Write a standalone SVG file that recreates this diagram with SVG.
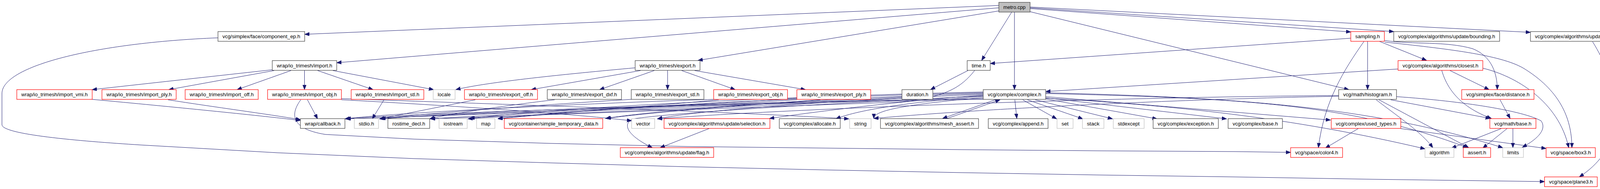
<svg xmlns="http://www.w3.org/2000/svg" width="4227" height="485" viewBox="0 0 4227 485">
<defs>
<marker id="ah" markerUnits="userSpaceOnUse" markerWidth="13" markerHeight="10" refX="12" refY="4.5" orient="auto">
<path d="M0,0 L12,4.5 L0,9 z" fill="#191970" stroke="#191970" stroke-width="1"/>
</marker>
<style>
.n rect{fill:#fff;stroke:#404040;stroke-width:1.2}
.r rect{fill:#fff;stroke:#ff0000;stroke-width:1.2}
.g rect{fill:#fff;stroke:#bfbfbf;stroke-width:1.2}
.m rect{fill:#bfbfbf;stroke:#404040;stroke-width:1.2}
text{font-family:"Liberation Sans",Arial,Helvetica,sans-serif;font-size:13px;fill:#000;text-anchor:middle}
#edges path{fill:none;stroke:#191970;stroke-width:1;marker-end:url(#ah)}
</style>
</defs>
<rect width="4227" height="485" fill="#fff"/>
<g id="edges">
<path d="M2557,14 L780,88"/>
<path d="M2557,20 L862,161"/>
<path d="M2557,28 L1787,155"/>
<path d="M2590,31 L2513,155"/>
<path d="M2597,31 L2597,230"/>
<path d="M2637,22 L3458,82"/>
<path d="M2637,20 L3568,81"/>
<path d="M2637,18 L3918,83"/>
<path d="M2637,30 L3453,230"/>
<path d="M558,97 C240,110 5,170 5,240 L5,320 C5,345 200,362 360,372 L710,392 L1060,407 L1410,418 L1760,428 L2110,436 L2460,443 L2810,449 L3160,454 L3510,460 L3954,466"/>
<path d="M4077,107 C4110,160 4122,200 4122,240 L4122,340 C4122,390 4080,430 4043,454"/>
<path d="M697,179 L236,230"/>
<path d="M702,181 L432,230"/>
<path d="M745,181 L607,230"/>
<path d="M779.5,181 L779.5,230"/>
<path d="M813,181 L955,230"/>
<path d="M852,181 L1110,230"/>
<path d="M1626,174 C1450,190 1250,210 1167,230"/>
<path d="M1640,181 L1360,230"/>
<path d="M1675,181 L1535,230"/>
<path d="M1709,181 L1709,230"/>
<path d="M1745,181 L1882,230"/>
<path d="M1778,181 L2062,230"/>
<path d="M2478,181 L2382,230"/>
<path d="M2495,181 C2460,225 2420,250 2300,262 L1102,305"/>
<path d="M2309,249 C2000,268 1300,290 1102,305"/>
<path d="M2309,252 C2000,272 1350,292 1198,305"/>
<path d="M3458,98 L2535,163"/>
<path d="M3501,106 L3501,230"/>
<path d="M3492,106 C3440,180 3390,260 3375,379"/>
<path d="M3531,106 L3652,155"/>
<path d="M3545,104 C3620,115 3700,105 3770,125 C3820,145 3833,190 3833,230"/>
<path d="M3545,108 C3700,125 3840,140 3900,175 C3990,230 4024,300 4024,379"/>
<path d="M3579,177 L2677,235"/>
<path d="M3712,181 L3812,230"/>
<path d="M3691,181 C3705,230 3740,275 3818,304"/>
<path d="M3796,175 C3880,195 3990,260 4016,379"/>
<path d="M3840,256 L3866,304"/>
<path d="M3523,256 C3580,300 3640,340 3668,379"/>
<path d="M3530,256 L3760,379"/>
<path d="M3560,256 L3815,304"/>
<path d="M3575,248 C3750,260 3900,285 3945,310 C3960,330 3940,355 3897,378"/>
<path d="M3427,247 C3000,255 2500,280 2237,304"/>
<path d="M3427,245 C2800,250 2000,280 1683,305"/>
<path d="M3843,330 L3716,380"/>
<path d="M3858,330 L3796,380"/>
<path d="M3873,330 L3873,379"/>
<path d="M3477,330 L3393,380"/>
<path d="M3586,330 L3958,381"/>
<path d="M2598,256 L2603,304"/>
<path d="M2618,256 L2705,305"/>
<path d="M2630,256 L2772,305"/>
<path d="M2650,256 L2848,305"/>
<path d="M2677,254 L2962,305"/>
<path d="M2677,251 L3140,305"/>
<path d="M2677,248 L3406,308"/>
<path d="M2677,240 C3150,252 3450,262 3757,379"/>
<path d="M2677,238 C3150,250 3500,270 3847,379"/>
<path d="M2677,252 C3000,270 3300,300 3648,382"/>
<path d="M2548,256 L2413,304"/>
<path d="M2425,304 L2560,256"/>
<path d="M2517,250 C2300,270 2237,285 2237,304"/>
<path d="M2517,247 C2350,260 2200,280 2140,305"/>
<path d="M2517,244 C2300,260 2100,285 1970,304"/>
<path d="M2517,242 C2200,255 1800,280 1683,305"/>
<path d="M2517,240 C2100,252 1700,280 1550,304"/>
<path d="M2517,238 C2000,250 1500,280 1275,304"/>
<path d="M2517,236 C1900,250 1400,280 1203,304"/>
<path d="M2517,253 C1900,262 1200,285 975,305"/>
<path d="M2517,255 C1900,265 1100,288 886,305"/>
<path d="M2517,246 C2200,262 1760,285 1620,305 C1590,320 1610,350 1670,379"/>
<path d="M1815,330 L1690,379"/>
<path d="M983,256 L953,305"/>
<path d="M236,255 C450,275 650,295 769,309"/>
<path d="M430,256 C550,275 680,292 769,307"/>
<path d="M787,256 L813,305"/>
<path d="M874,256 C1100,268 1450,290 1617,310"/>
<path d="M874,253 C1300,268 1900,288 2173,305"/>
<path d="M770,256 C745,290 740,330 833,345 L1060,357 L1410,368 L1760,376 L2110,380 L2460,384 L2810,387 L3160,389 L3304,391"/>
<path d="M1217,256 L972,305"/>
<path d="M1616,255 C1400,268 1100,290 972,305"/>
<path d="M1827,255 C1500,265 1000,290 883,305"/>
<path d="M2040,256 C1700,280 1100,292 972,305"/>
<path d="M2040,252 C1800,270 1300,292 885,305"/>
<path d="M1840,256 C1700,270 1400,292 1275,305"/>
<path d="M2100,256 C1900,270 1650,290 1552,304"/>
<path d="M1420,256 C1300,270 1150,292 1100,305"/>
</g>
<g id="metro" class="m"><rect x="2557" y="6" width="80" height="25"/><text x="2597" y="23" textLength="57" lengthAdjust="spacingAndGlyphs">metro.cpp</text></g>
<g id="face_component_ep" class="n"><rect x="558" y="81" width="222" height="25"/><text x="669" y="98" textLength="199" lengthAdjust="spacingAndGlyphs">vcg/simplex/face/component_ep.h</text></g>
<g id="sampling" class="r"><rect x="3458" y="81" width="86" height="25"/><text x="3501" y="98" textLength="63" lengthAdjust="spacingAndGlyphs">sampling.h</text></g>
<g id="bounding" class="n"><rect x="3568" y="81" width="271" height="25"/><text x="3703.5" y="98" textLength="248" lengthAdjust="spacingAndGlyphs">vcg/complex/algorithms/update/bounding.h</text></g>
<g id="update_component_ep" class="n"><rect x="3918" y="81" width="303" height="25"/><text x="4069.5" y="98" textLength="280" lengthAdjust="spacingAndGlyphs">vcg/complex/algorithms/update/component_ep.h</text></g>
<g id="import" class="n"><rect x="697" y="155.5" width="165" height="25"/><text x="779.5" y="172.5" textLength="142" lengthAdjust="spacingAndGlyphs">wrap/io_trimesh/import.h</text></g>
<g id="export" class="n"><rect x="1626" y="155.5" width="166" height="25"/><text x="1709" y="172.5" textLength="143" lengthAdjust="spacingAndGlyphs">wrap/io_trimesh/export.h</text></g>
<g id="time" class="n"><rect x="2476" y="155.5" width="59" height="25"/><text x="2505.5" y="172.5" textLength="36" lengthAdjust="spacingAndGlyphs">time.h</text></g>
<g id="closest" class="r"><rect x="3579" y="155.5" width="217" height="25"/><text x="3687.5" y="172.5" textLength="194" lengthAdjust="spacingAndGlyphs">vcg/complex/algorithms/closest.h</text></g>
<g id="import_vmi" class="r"><rect x="43" y="230" width="193" height="25"/><text x="139.5" y="247" textLength="170" lengthAdjust="spacingAndGlyphs">wrap/io_trimesh/import_vmi.h</text></g>
<g id="import_ply" class="r"><rect x="261" y="230" width="190" height="25"/><text x="356" y="247" textLength="167" lengthAdjust="spacingAndGlyphs">wrap/io_trimesh/import_ply.h</text></g>
<g id="import_off" class="r"><rect x="474" y="230" width="187" height="25"/><text x="567.5" y="247" textLength="164" lengthAdjust="spacingAndGlyphs">wrap/io_trimesh/import_off.h</text></g>
<g id="import_obj" class="r"><rect x="685" y="230" width="189" height="25"/><text x="779.5" y="247" textLength="166" lengthAdjust="spacingAndGlyphs">wrap/io_trimesh/import_obj.h</text></g>
<g id="import_stl" class="r"><rect x="899" y="230" width="186" height="25"/><text x="992" y="247" textLength="163" lengthAdjust="spacingAndGlyphs">wrap/io_trimesh/import_stl.h</text></g>
<g id="locale" class="g"><rect x="1109" y="230" width="56" height="25"/><text x="1137" y="247" textLength="33" lengthAdjust="spacingAndGlyphs">locale</text></g>
<g id="export_off" class="r"><rect x="1189" y="230" width="187" height="25"/><text x="1282.5" y="247" textLength="164" lengthAdjust="spacingAndGlyphs">wrap/io_trimesh/export_off.h</text></g>
<g id="export_dxf" class="n"><rect x="1401" y="230" width="190" height="25"/><text x="1496" y="247" textLength="167" lengthAdjust="spacingAndGlyphs">wrap/io_trimesh/export_dxf.h</text></g>
<g id="export_stl" class="n"><rect x="1616" y="230" width="186" height="25"/><text x="1709" y="247" textLength="163" lengthAdjust="spacingAndGlyphs">wrap/io_trimesh/export_stl.h</text></g>
<g id="export_obj" class="r"><rect x="1827" y="230" width="189" height="25"/><text x="1921.5" y="247" textLength="166" lengthAdjust="spacingAndGlyphs">wrap/io_trimesh/export_obj.h</text></g>
<g id="export_ply" class="r"><rect x="2040" y="230" width="189" height="25"/><text x="2134.5" y="247" textLength="166" lengthAdjust="spacingAndGlyphs">wrap/io_trimesh/export_ply.h</text></g>
<g id="duration" class="n"><rect x="2309" y="230" width="79" height="25"/><text x="2348.5" y="247" textLength="56" lengthAdjust="spacingAndGlyphs">duration.h</text></g>
<g id="complex" class="n"><rect x="2517" y="230" width="160" height="25"/><text x="2597" y="247" textLength="137" lengthAdjust="spacingAndGlyphs">vcg/complex/complex.h</text></g>
<g id="histogram" class="n"><rect x="3427" y="230" width="148" height="25"/><text x="3501" y="247" textLength="125" lengthAdjust="spacingAndGlyphs">vcg/math/histogram.h</text></g>
<g id="face_distance" class="r"><rect x="3742" y="230" width="185" height="25"/><text x="3834.5" y="247" textLength="162" lengthAdjust="spacingAndGlyphs">vcg/simplex/face/distance.h</text></g>
<g id="callback" class="n"><rect x="769" y="304.5" width="114" height="25"/><text x="826" y="321.5" textLength="91" lengthAdjust="spacingAndGlyphs">wrap/callback.h</text></g>
<g id="stdio" class="g"><rect x="907" y="304.5" width="62" height="25"/><text x="938" y="321.5" textLength="39" lengthAdjust="spacingAndGlyphs">stdio.h</text></g>
<g id="rostime_decl" class="n"><rect x="993" y="304.5" width="107" height="25"/><text x="1046.5" y="321.5" textLength="84" lengthAdjust="spacingAndGlyphs">rostime_decl.h</text></g>
<g id="iostream" class="g"><rect x="1124" y="304.5" width="72" height="25"/><text x="1160" y="321.5" textLength="49" lengthAdjust="spacingAndGlyphs">iostream</text></g>
<g id="map" class="g"><rect x="1220" y="304.5" width="47" height="25"/><text x="1243.5" y="321.5" textLength="24" lengthAdjust="spacingAndGlyphs">map</text></g>
<g id="simple_temporary_data" class="r"><rect x="1291" y="304.5" width="252" height="25"/><text x="1417" y="321.5" textLength="229" lengthAdjust="spacingAndGlyphs">vcg/container/simple_temporary_data.h</text></g>
<g id="vector" class="g"><rect x="1617" y="304.5" width="59" height="25"/><text x="1646.5" y="321.5" textLength="36" lengthAdjust="spacingAndGlyphs">vector</text></g>
<g id="selection" class="r"><rect x="1700" y="304.5" width="271" height="25"/><text x="1835.5" y="321.5" textLength="248" lengthAdjust="spacingAndGlyphs">vcg/complex/algorithms/update/selection.h</text></g>
<g id="allocate" class="n"><rect x="1995" y="304.5" width="156" height="25"/><text x="2073" y="321.5" textLength="133" lengthAdjust="spacingAndGlyphs">vcg/complex/allocate.h</text></g>
<g id="string" class="g"><rect x="2175" y="304.5" width="55" height="25"/><text x="2202.5" y="321.5" textLength="32" lengthAdjust="spacingAndGlyphs">string</text></g>
<g id="mesh_assert" class="n"><rect x="2254" y="304.5" width="251" height="25"/><text x="2379.5" y="321.5" textLength="228" lengthAdjust="spacingAndGlyphs">vcg/complex/algorithms/mesh_assert.h</text></g>
<g id="append" class="n"><rect x="2530" y="304.5" width="153" height="25"/><text x="2606.5" y="321.5" textLength="130" lengthAdjust="spacingAndGlyphs">vcg/complex/append.h</text></g>
<g id="set" class="g"><rect x="2706" y="304.5" width="41" height="25"/><text x="2726.5" y="321.5" textLength="18" lengthAdjust="spacingAndGlyphs">set</text></g>
<g id="stack" class="g"><rect x="2771" y="304.5" width="55" height="25"/><text x="2798.5" y="321.5" textLength="32" lengthAdjust="spacingAndGlyphs">stack</text></g>
<g id="stdexcept" class="g"><rect x="2850" y="304.5" width="79" height="25"/><text x="2889.5" y="321.5" textLength="56" lengthAdjust="spacingAndGlyphs">stdexcept</text></g>
<g id="exception" class="n"><rect x="2952" y="304.5" width="167" height="25"/><text x="3035.5" y="321.5" textLength="144" lengthAdjust="spacingAndGlyphs">vcg/complex/exception.h</text></g>
<g id="complex_base" class="n"><rect x="3144" y="304.5" width="139" height="25"/><text x="3213.5" y="321.5" textLength="116" lengthAdjust="spacingAndGlyphs">vcg/complex/base.h</text></g>
<g id="used_types" class="r"><rect x="3408" y="304.5" width="178" height="25"/><text x="3497" y="321.5" textLength="155" lengthAdjust="spacingAndGlyphs">vcg/complex/used_types.h</text></g>
<g id="math_base" class="r"><rect x="3814" y="304.5" width="118" height="25"/><text x="3873" y="321.5" textLength="95" lengthAdjust="spacingAndGlyphs">vcg/math/base.h</text></g>
<g id="flag" class="r"><rect x="1588" y="379" width="239" height="25"/><text x="1707.5" y="396" textLength="216" lengthAdjust="spacingAndGlyphs">vcg/complex/algorithms/update/flag.h</text></g>
<g id="color4" class="r"><rect x="3304" y="379" width="133" height="25"/><text x="3370.5" y="396" textLength="110" lengthAdjust="spacingAndGlyphs">vcg/space/color4.h</text></g>
<g id="algorithm" class="g"><rect x="3648" y="379" width="74" height="25"/><text x="3685" y="396" textLength="51" lengthAdjust="spacingAndGlyphs">algorithm</text></g>
<g id="assert" class="r"><rect x="3746" y="379" width="70" height="25"/><text x="3781" y="396" textLength="47" lengthAdjust="spacingAndGlyphs">assert.h</text></g>
<g id="limits" class="g"><rect x="3847" y="379" width="53" height="25"/><text x="3873.5" y="396" textLength="30" lengthAdjust="spacingAndGlyphs">limits</text></g>
<g id="box3" class="r"><rect x="3958" y="379" width="126" height="25"/><text x="4021" y="396" textLength="103" lengthAdjust="spacingAndGlyphs">vcg/space/box3.h</text></g>
<g id="plane3" class="r"><rect x="3954" y="454" width="135" height="25"/><text x="4021.5" y="471" textLength="112" lengthAdjust="spacingAndGlyphs">vcg/space/plane3.h</text></g>
</svg>
